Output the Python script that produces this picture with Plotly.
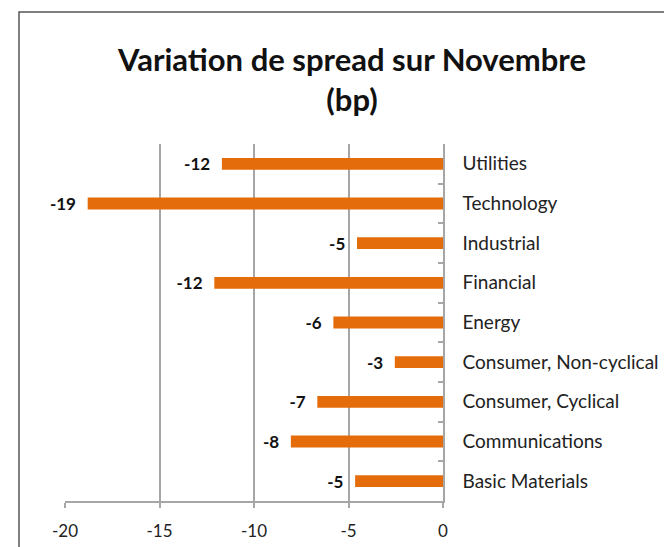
import plotly.graph_objects as go

# sectors, bottom to top as drawn
sectors = ['Basic Materials', 'Communications', 'Consumer, Cyclical',
           'Consumer, Non-cyclical', 'Energy', 'Financial', 'Industrial',
           'Technology', 'Utilities']
spread_change = [-4.65, -8.05, -6.65, -2.55, -5.8, -12.1, -4.55, -18.8, -11.7]

x_ticks = [-20, -15, -10, -5, 0]
x_tick_text = ['-20', '-15', '-10', '-5', '0']

font_name = 'Lato'
orange = '#E46C0A'

fig = go.Figure()
fig.add_trace(go.Bar(
    x=spread_change,
    y=sectors,
    orientation='h',
    marker=dict(color=orange, line=dict(width=0)),
    texttemplate='<b>%{x:.0f}</b>\u00a0\u00a0',
    textposition='outside',
    constraintext='none',
    textfont=dict(family=font_name, size=17, color='#111111'),
    cliponaxis=False,
    showlegend=False
))

fig.update_layout(
    width=664, height=547,
    margin=dict(l=65, r=221, t=144, b=46, autoexpand=False),
    paper_bgcolor='white', plot_bgcolor='white',
    bargap=0.7,
    title=dict(
        text='<b>Variation de spread sur Novembre<br>(bp)</b>',
        x=(352 / 664), xanchor='center',
        y=1 - 71 / 547, yanchor='top',
        font=dict(family=font_name, size=31, color='#111111')
    ),
    font=dict(family=font_name, size=17, color='#222222'),
    shapes=[dict(
        type='rect', xref='paper', yref='paper',
        x0=(19 - 65) / 378, x1=1.8,
        y0=-0.3, y1=(501 - 12) / 357,
        line=dict(color='#555555', width=1.5),
        layer='below'
    )]
)

fig.update_xaxes(
    range=[-20, 0],
    tickvals=x_ticks, ticktext=x_tick_text,
    showgrid=True, gridcolor='#A6A6A6', gridwidth=1.5,
    zeroline=False,
    showline=True, linecolor='#A6A6A6', linewidth=1.5,
    ticks='outside', ticklen=5, tickcolor='#A6A6A6', tickwidth=1.5,
    ticklabelstandoff=9,
    tickfont=dict(size=17, color='#222222'),
    automargin=False,
    fixedrange=True
)

fig.update_yaxes(
    side='right',
    categoryorder='array', categoryarray=sectors,
    showline=True, linecolor='#A6A6A6', linewidth=1.5,
    ticks='inside', tickson='boundaries', ticklen=5,
    tickcolor='#A6A6A6', tickwidth=1.5,
    ticklabelstandoff=14,
    tickfont=dict(size=19, color='#222222'),
    showgrid=False, zeroline=False,
    automargin=False,
    fixedrange=True
)

# the page's default 8px body margin would shift the whole chart
fig.write_html('out.html', config={'displayModeBar': False},
               post_script="document.body.style.margin='0';")
